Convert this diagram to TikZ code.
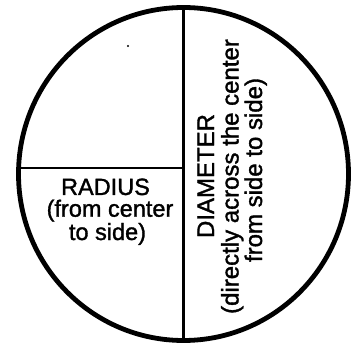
\documentclass[tikz,border=0pt]{standalone}
\usepackage{fontspec}
\setmainfont{Liberation Sans}
\newfontface\scanface{Liberation Sans}[FakeBold=1.4]
\begin{document}
\begin{tikzpicture}[x=1pt,y=1pt,
  rim/.style={line width=4.8pt},
  divider/.style={line width=2.2pt},
  lbl/.style={font=\scanface\fontsize{23.5}{22.5}\selectfont, inner sep=0pt, anchor=base},
  vlbl/.style={font=\scanface\fontsize{24}{23}\selectfont, inner sep=0pt, anchor=base, rotate=90}]
\useasboundingbox (0,0) rectangle (352,345);
\coordinate (c) at (183.5,171);
\draw[rim] (c) ellipse [x radius=165, y radius=166.5];
\coordinate (top) at (183.5,337.5);
\coordinate (bot) at (183.5,4.5);
\coordinate (left) at (18.5,177);
\coordinate (mid) at (183.5,177);
\draw[divider] (top) -- (bot);
\draw[divider] (left) -- (mid);
\fill (128,299) circle (1.1);
% radius text
\node[lbl] (r1) at (105.5,150) {RADIUS};
\node[lbl] (r2) at (110,128.3) {(from center};
\node[lbl] (r3) at (107.5,105) {to side)};
% diameter text (rotated)
\node[vlbl] (d1) at (214,169) {DIAMETER};
\node[vlbl] (d2) at (238.5,168.5) {(directly across the center};
\node[vlbl] (d3) at (262,175) {from side to side)};
\end{tikzpicture}
\end{document}
